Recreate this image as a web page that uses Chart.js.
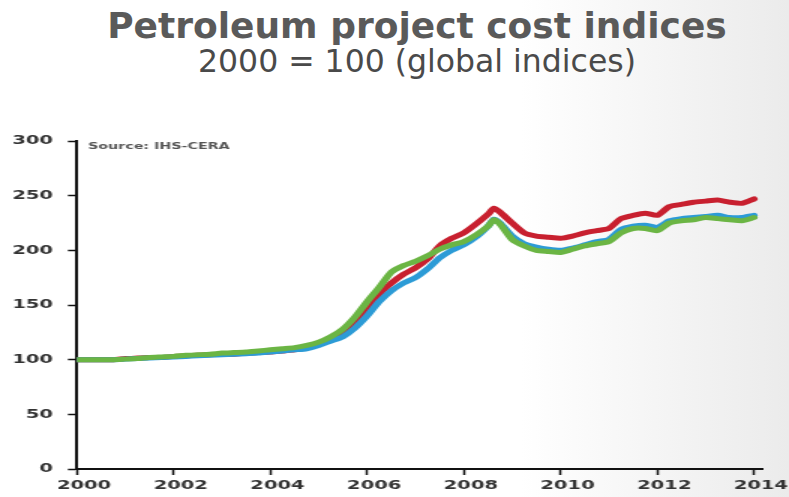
<!DOCTYPE html>
<html>
<head>
<meta charset="utf-8">
<script src="https://cdn.jsdelivr.net/npm/chart.js@4.4.0/dist/chart.umd.min.js"></script>
<style>
  html, body { margin: 0; padding: 0; }
  body {
    width: 789px; height: 497px; overflow: hidden; position: relative;
    background: linear-gradient(to right, #ffffff 0%, #ffffff 66%, #ebebeb 100%);
    font-family: "DejaVu Sans", sans-serif;
  }
  .title {
    position: absolute; left: 0; top: 8px; width: 834px; text-align: center;
    font-size: 36px; font-weight: bold; line-height: 1; color: #5a5a5a;
  }
  .subtitle {
    position: absolute; left: 0; top: 46px; width: 834px; text-align: center;
    font-size: 31.5px; line-height: 1; color: #4a4a4a;
  }
  /* the source chart is stretched sideways, so draw it narrow and widen it */
  #wrap {
    position: absolute; left: 0; top: 0; width: 526px; height: 497px;
    transform: scaleX(1.5); transform-origin: 0 0;
  }
</style>
</head>
<body>
<div class="title">Petroleum project cost indices</div>
<div class="subtitle">2000 = 100 (global indices)</div>
<div id="wrap"><canvas id="costChart"></canvas></div>
<script>
// decimal years, quarterly (plus the mid-2008 peak)
const quarters = [
  2000, 2000.25, 2000.5, 2000.75,
  2001, 2001.25, 2001.5, 2001.75,
  2002, 2002.25, 2002.5, 2002.75,
  2003, 2003.25, 2003.5, 2003.75,
  2004, 2004.25, 2004.5, 2004.75,
  2005, 2005.25, 2005.5, 2005.75,
  2006, 2006.25, 2006.5, 2006.75,
  2007, 2007.25, 2007.5, 2007.75,
  2008, 2008.25, 2008.5, 2008.625, 2008.75,
  2009, 2009.25, 2009.5, 2009.75,
  2010, 2010.25, 2010.5, 2010.75,
  2011, 2011.25, 2011.5, 2011.75,
  2012, 2012.25, 2012.5, 2012.75,
  2013, 2013.25, 2013.5, 2013.75,
  2014
];

const redIndex = [
  100, 100, 100, 100,
  101, 101.5, 102, 102,
  103, 103.5, 104, 104.5,
  105, 105, 106, 106.5,
  107, 108, 109, 111,
  114, 118, 124, 134,
  147, 160, 170, 178,
  184, 192, 204, 211,
  216, 224, 233, 238.5, 235,
  225, 216, 213, 212,
  211, 213, 216, 218,
  220, 229, 232, 234,
  232, 240, 242, 244,
  245, 246, 244, 243,
  247
];

const blueIndex = [
  100, 100, 100, 100,
  100.5, 101, 101.5, 102,
  102.5, 103, 103.5, 104,
  104.5, 105, 105.5, 106,
  107, 108, 109, 110,
  113, 117, 121, 129,
  140, 153, 163, 170,
  175, 183, 193, 200,
  205, 212, 222, 228.5, 225,
  213, 206, 203, 201,
  200, 202, 205, 208,
  210, 219, 222, 223,
  221, 227, 229, 230,
  231, 232, 230, 230,
  232
];

const greenIndex = [
  100, 100, 100, 100,
  100.5, 101, 102, 102.5,
  103, 104, 104.5, 105,
  106, 106.5, 107, 108,
  109, 110, 111, 113,
  116, 121, 128, 139,
  153, 166, 180, 186,
  190, 195, 201, 205,
  208, 214, 222, 228, 224,
  210, 204, 200, 199,
  198, 201, 204, 206,
  208, 216, 220, 220,
  218, 225, 227, 228,
  230, 229, 228, 227,
  230
];

const yearTicks = [2000, 2002, 2004, 2006, 2008, 2010, 2012, 2014];
const sourceNote = 'Source: IHS-CERA';

const toPoints = (vals) => vals.map((v, i) => ({ x: quarters[i], y: v }));

const sourcePlugin = {
  id: 'sourceNote',
  afterDraw(chart) {
    const ctx = chart.ctx;
    ctx.save();
    ctx.font = 'bold 9.5px "DejaVu Sans"';
    ctx.fillStyle = '#555';
    ctx.textBaseline = 'middle';
    ctx.fillText(sourceNote, chart.chartArea.left + 7.4, 147);
    ctx.restore();
  }
};

const lineStyle = {
  borderWidth: 5,
  pointRadius: 0,
  tension: 0.2,
  borderJoinStyle: 'round',
  borderCapStyle: 'round',
  fill: false,
};

new Chart(document.getElementById('costChart'), {
  type: 'line',
  data: {
    datasets: [
      { label: 'Red', data: toPoints(redIndex), borderColor: '#c8202f', order: 3, ...lineStyle },
      { label: 'Blue', data: toPoints(blueIndex), borderColor: '#2c9bd6', order: 2, ...lineStyle },
      { label: 'Green', data: toPoints(greenIndex), borderColor: '#6bb544', order: 1, ...lineStyle },
    ],
  },
  options: {
    responsive: true,
    maintainAspectRatio: false,
    animation: false,
    layout: { padding: { top: 141, left: 0, right: 17.9, bottom: 0 } },
    plugins: {
      legend: { display: false },
      tooltip: { enabled: false },
    },
    scales: {
      x: {
        type: 'linear',
        min: 2000,
        max: 2014.17,
        afterBuildTicks: (scale) => {
          scale.ticks = yearTicks.map((v) => ({ value: v }));
        },
        afterFit: (scale) => {
          scale.height = 28;
        },
        grid: {
          drawOnChartArea: false,
          tickLength: 6,
          color: '#111',
          tickWidth: 1.5,
        },
        border: { color: '#111', width: 2 },
        ticks: {
          color: '#333',
          font: { family: 'DejaVu Sans', weight: 'bold', size: 13 },
          padding: 3,
          labelOffset: 4.7,
          maxRotation: 0,
          autoSkip: false,
          callback: (v) => String(v),
        },
      },
      y: {
        min: 0,
        max: 300,
        afterFit: (scale) => {
          scale.width = 51.3;
        },
        grid: {
          drawOnChartArea: false,
          tickLength: 6,
          color: '#111',
          tickWidth: 1.5,
        },
        border: { color: '#111', width: 2 },
        ticks: {
          stepSize: 50,
          color: '#333',
          font: { family: 'DejaVu Sans', weight: 'bold', size: 13 },
          padding: 10,
        },
      },
    },
  },
  plugins: [sourcePlugin],
});
</script>
</body>
</html>
